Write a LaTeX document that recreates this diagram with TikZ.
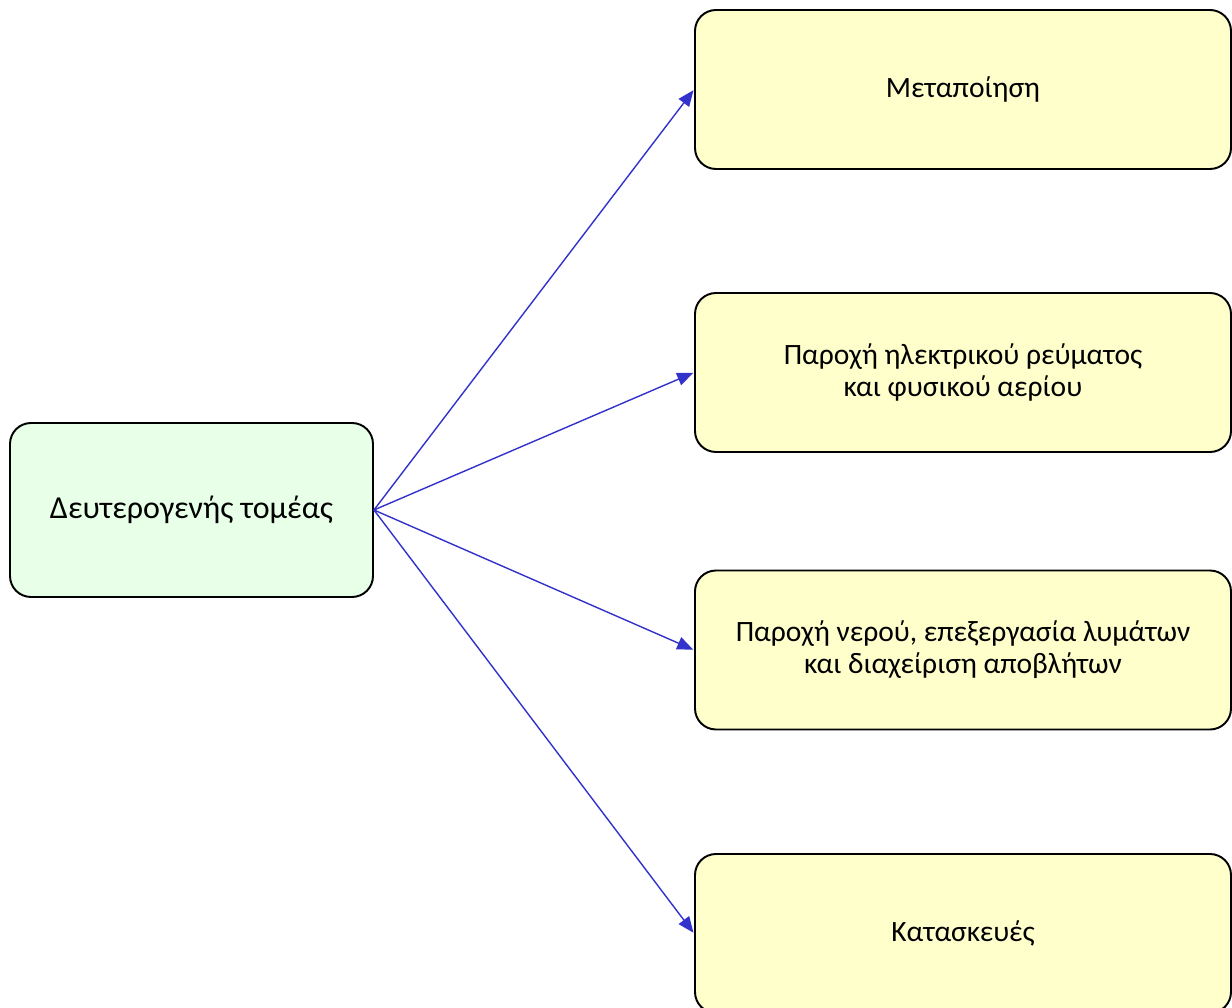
\documentclass[tikz,border=0pt]{standalone}
\usepackage{fontspec}
\setmainfont{Carlito}
\usetikzlibrary{arrows.meta, positioning}
\definecolor{sectorgreen}{HTML}{E8FFE8}
\definecolor{sectoryellow}{HTML}{FFFFCC}
\definecolor{sectorblue}{HTML}{3333CC}
\tikzset{
  >={Triangle[length=3.2mm, width=2.6mm]},
  box/.style={rectangle, rounded corners=0.42cm, draw=black, line width=1.1pt,
              align=center, font=\fontsize{16.8}{18.3}\selectfont, inner sep=2pt},
  rootbox/.style={box, fill=sectorgreen, minimum width=7.26cm, minimum height=3.48cm,
                  font=\fontsize{18.2}{20}\selectfont},
  subbox/.style={box, fill=sectoryellow, minimum width=10.72cm, minimum height=3.18cm},
  flow/.style={->, line width=0.8pt, draw=sectorblue, fill=sectorblue, shorten >=0.5pt},
}
\begin{document}
\begin{tikzpicture}
  \useasboundingbox (0,0) rectangle (24.64,-20.16);
  % source sector
  \node[rootbox] (root) at (3.83,-10.2) {Δευτερογενής τομέας};
  % branches
  \node[subbox] (manuf) at (19.26,-1.79) {Μεταποίηση};
  \node[subbox] (energy) at (19.26,-7.45) {Παροχή ηλεκτρικού ρεύματος\\και φυσικού αερίου};
  \node[subbox] (water) at (19.26,-13.0) {Παροχή νερού, επεξεργασία λυμάτων\\και διαχείριση αποβλήτων};
  \node[subbox] (build) at (19.26,-18.67) {Κατασκευές};
  \foreach \t in {manuf, energy, water, build}{ \draw[flow] (root.east) -- (\t.west); }
\end{tikzpicture}
\end{document}
